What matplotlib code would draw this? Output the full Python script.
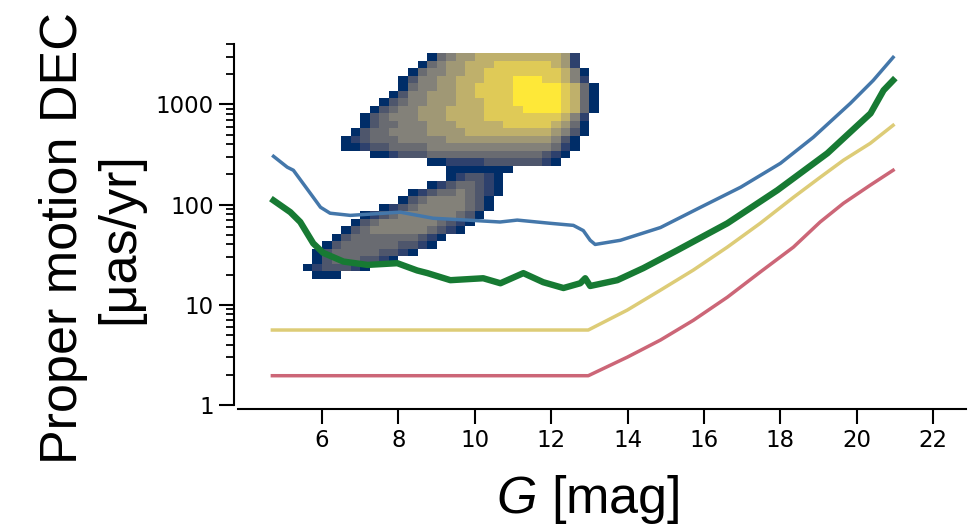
import numpy as np
import matplotlib
matplotlib.use("Agg")
import matplotlib.pyplot as plt
from matplotlib import ticker

# curves: G magnitude vs proper motion error (uas/yr)
g_blue = [4.73, 5.09, 5.25, 5.69, 5.96, 6.21, 6.74, 8.05, 8.91, 9.80, 10.66, 11.11, 11.98, 12.58,
          12.84, 13.02, 13.15, 13.81, 14.86, 15.91, 16.96, 18.0, 18.86, 19.83, 20.43, 20.95]
pm_blue = [303, 236, 220, 130, 94, 82, 78, 84, 73, 70, 67, 70, 65, 62,
           55, 44, 40, 44, 59, 94, 149, 258, 469, 1023, 1734, 2943]

g_green = [4.73, 5.17, 5.43, 5.77, 6.03, 6.56, 7.19, 7.97, 8.49, 8.76, 9.36, 10.22, 10.67, 11.27,
           11.79, 12.32, 12.76, 12.89, 13.02, 13.73, 14.41, 15.30, 16.61, 17.92, 19.23, 20.36,
           20.70, 20.95]
pm_green = [110, 84, 67, 41, 33, 27, 25, 26, 22, 20.7, 17.6, 18.4, 16.4, 20.7,
            16.8, 14.7, 16.4, 18.4, 15.4, 17.6, 23.2, 35, 65, 139, 325, 813,
            1380, 1735]

g_yellow = [4.7, 12.97, 13.99, 14.86, 15.72, 16.61, 17.47, 18.34, 19.04, 19.65, 20.35, 20.95]
pm_yellow = [5.6, 5.6, 8.85, 14.0, 22.2, 37.6, 65, 118, 187, 277, 408, 618]

g_red = [4.7, 12.97, 13.99, 14.86, 15.72, 16.61, 17.47, 18.34, 19.04, 19.65, 20.35, 20.95]
pm_red = [1.96, 1.96, 3.0, 4.45, 7.0, 11.9, 21.2, 37.6, 67, 103, 156, 220]

# star density: (first column, levels 1-9 per cell)
dens_g_edges = 5.5 + 0.25 * np.arange(33)
dens_log_edges = 3.51 - 0.075 * np.arange(31)
dens_rows = [
    (13, "1456677777777762"),
    (12, "14566777888888762"),
    (11, "1455667788888888751"),
    (10, "13556677788899988752"),
    (10, "145566778888999998741"),
    (9, "1355666778888999998741"),
    (8, "13455666777888999998741"),
    (7, "134556667777888899998741"),
    (6, "134555666777788888888752"),
    (6, "134455566677777888887641"),
    (5, "1344555566667777777776531"),
    (4, "1234445555566666666666531"),
    (4, "1123344445555555555555421"),
    (7, "112333444444444444321"),
    (13, "11222233333321"),
    (15, "1111111"),
    (15, "123321"),
    (13, "12344321"),
    (11, "1234454321"),
    (10, "1345555431"),
    (8, "123455555431"),
    (6, "1234555555431"),
    (5, "1345555554321"),
    (4, "1345555554321"),
    (3, "134444444321"),
    (2, "134444443321"),
    (1, "13444443321"),
    (1, "134443321"),
    (0, "1233321"),
    (1, "111"),
]

dens = np.full((len(dens_log_edges) - 1, len(dens_g_edges) - 1), np.nan)
for k, (start, levels) in enumerate(dens_rows):
    for j, c in enumerate(levels):
        dens[k, start + j] = float(c)
dens = np.ma.masked_invalid(dens)

plt.rcParams["mathtext.fontset"] = "custom"
plt.rcParams["mathtext.rm"] = "Liberation Sans"
plt.rcParams["mathtext.it"] = "Liberation Sans:italic"

fig = plt.figure(figsize=(9.79, 5.29), dpi=100)
ax = fig.add_axes([0.2431, 0.2344, 0.7433, 0.6824])

ax.pcolormesh(dens_g_edges, 10 ** dens_log_edges, dens, cmap="cividis", vmin=0.5, vmax=9,
              shading="flat", edgecolors="none", antialiased=False, zorder=1)

ax.plot(g_red, pm_red, color="#CC6677", lw=2.5, zorder=3)
ax.plot(g_yellow, pm_yellow, color="#DDCC77", lw=2.5, zorder=3)
ax.plot(g_blue, pm_blue, color="#4477AA", lw=2.5, zorder=3)
ax.plot(g_green, pm_green, color="#177A33", lw=4.6, zorder=4)

ax.set_yscale("log")
ax.set_xlim(3.8, 22.85)
ax.set_ylim(1, 4000)
ax.set_xticks([6, 8, 10, 12, 14, 16, 18, 20, 22])
ax.yaxis.set_major_formatter(ticker.ScalarFormatter())
ax.yaxis.set_minor_formatter(ticker.NullFormatter())

for s in ["top", "right"]:
    ax.spines[s].set_visible(False)
for s in ["left", "bottom"]:
    ax.spines[s].set_position(("outward", 3))
    ax.spines[s].set_linewidth(1.5)

ax.tick_params(which="major", length=11, width=1.5, labelsize=16.5, pad=3.5)
ax.tick_params(which="minor", length=6, width=1.3)

ax.set_ylabel("Proper motion DEC\n[\u03bcas/yr]", fontsize=37.5, family="Liberation Sans",
              linespacing=1.2)
ax.yaxis.set_label_coords(-0.129, 0.4626)
ax.set_xlabel("$G$ [mag]", fontsize=37.5, family="Liberation Sans")
ax.xaxis.set_label_coords(0.481, -0.188)

fig.savefig("out.png", dpi=100)
